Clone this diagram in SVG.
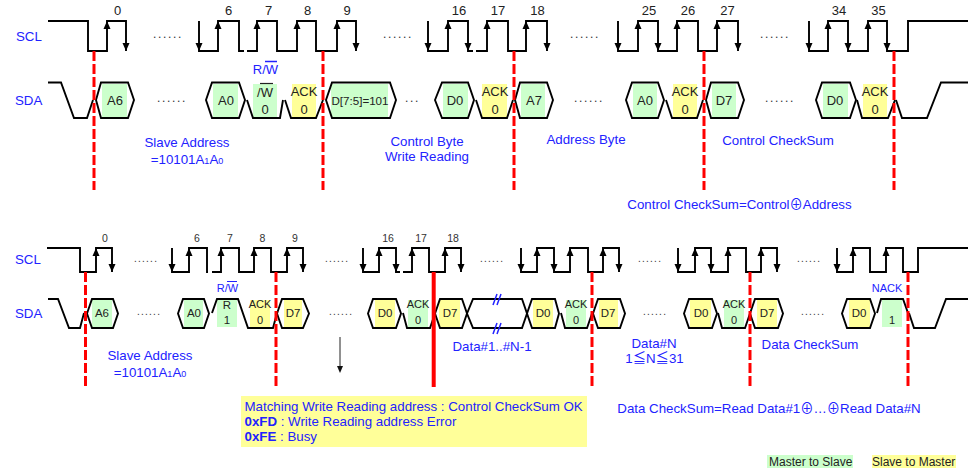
<svg xmlns="http://www.w3.org/2000/svg" width="969" height="469" viewBox="0 0 969 469">
<style>
text{font-family:"Liberation Sans","Noto Sans CJK SC",sans-serif}
.sig{fill:none;stroke:#000;stroke-width:1.9}
.green{fill:#ccffcc}
.yellow{fill:#ffff99}
.b{fill:#2222ff;font-size:13.300px}
.bc{fill:#2222ff;font-size:13.300px;text-anchor:middle}
.bs{fill:#2222ff;font-size:11px;text-anchor:middle}
.n{fill:#222;font-size:13px;text-anchor:middle}
.ns{fill:#333;font-size:10.500px;text-anchor:middle}
.h{fill:#222;font-size:13px;text-anchor:middle}
.hs{fill:#222;font-size:11.500px;text-anchor:middle}
.as{fill:#222;font-size:11px;text-anchor:middle}
.sub{font-size:9px}
.dots{fill:#333;font-size:12px;letter-spacing:1.67px}
.dots2{fill:#333;font-size:10px;letter-spacing:1.25px}
.red{stroke:#ff0000;stroke-width:3;stroke-dasharray:10 3;fill:none}
.blueline{stroke:#2222ff;stroke-width:1.5;fill:none}
.leg{font-size:12px;fill:#222}
</style>
<defs>
<path id="up" d="M0 0L3.5 8H-3.500Z" fill="#000"/>
<path id="dn" d="M0 0L3.5 -8H-3.500Z" fill="#000"/>
</defs>

<g id="backgrounds">
<rect class="green" x="102" y="84" width="25" height="34"/>
<rect class="green" x="213" y="84" width="25" height="34"/>
<rect class="green" x="253" y="84" width="24" height="34"/>
<rect class="yellow" x="292" y="84" width="24" height="34"/>
<rect class="green" x="331" y="84" width="57" height="34"/>
<rect class="green" x="443" y="84" width="25" height="34"/>
<rect class="yellow" x="482" y="84" width="25" height="34"/>
<rect class="green" x="521" y="84" width="24" height="34"/>
<rect class="green" x="633" y="84" width="24" height="34"/>
<rect class="yellow" x="673" y="84" width="24" height="34"/>
<rect class="green" x="712" y="84" width="24" height="34"/>
<rect class="green" x="823" y="84" width="25" height="34"/>
<rect class="yellow" x="863" y="84" width="24" height="34"/>

<rect class="green" x="92" y="300" width="20" height="27"/>
<rect class="green" x="184" y="300" width="19" height="27"/>
<rect class="green" x="217" y="300" width="20" height="27"/>
<rect class="yellow" x="250" y="300" width="20" height="27"/>
<rect class="yellow" x="284" y="300" width="18" height="27"/>
<rect class="yellow" x="375" y="300" width="20" height="27"/>
<rect class="green" x="408" y="300" width="20" height="27"/>
<rect class="yellow" x="439" y="300" width="21" height="27"/>
<rect class="yellow" x="533" y="300" width="20" height="27"/>
<rect class="green" x="566" y="300" width="20" height="27"/>
<rect class="yellow" x="599" y="300" width="19" height="27"/>
<rect class="yellow" x="690" y="300" width="21" height="27"/>
<rect class="green" x="724" y="300" width="20" height="27"/>
<rect class="yellow" x="757" y="300" width="20" height="27"/>
<rect class="yellow" x="849" y="300" width="21" height="27"/>
<rect class="green" x="882" y="300" width="20" height="27"/>
</g>

<g id="scl-top">
<path class="sig" d="M48 21H88V51H107V21H126V51M199 21V51H218V21H239V51H244M247 51H257V21H277V51H297V21H316V51H337V21H356V51M428 21V51H448V21H468V51H473M476 51H487V21H508V51H526V21H547V51M618 21V51H638V21H658V51H677V21H698V51H717V21H738V51M809 21V51H828V21H848V51H868V21H887V51H908V21H968"/>
<use href="#up" x="107" y="21"/><use href="#up" x="218" y="21"/><use href="#up" x="257" y="21"/><use href="#up" x="297" y="21"/><use href="#up" x="337" y="21"/><use href="#up" x="448" y="21"/><use href="#up" x="487" y="21"/><use href="#up" x="526" y="21"/><use href="#up" x="638" y="21"/><use href="#up" x="677" y="21"/><use href="#up" x="717" y="21"/><use href="#up" x="828" y="21"/><use href="#up" x="868" y="21"/>
<use href="#dn" x="126" y="51"/><use href="#dn" x="199" y="51"/><use href="#dn" x="356" y="51"/><use href="#dn" x="428" y="51"/><use href="#dn" x="468" y="51"/><use href="#dn" x="547" y="51"/><use href="#dn" x="618" y="51"/><use href="#dn" x="658" y="51"/><use href="#dn" x="738" y="51"/><use href="#dn" x="809" y="51"/><use href="#dn" x="848" y="51"/><use href="#dn" x="887" y="51"/>
</g>

<g id="sda-top">
<path class="sig" d="M48 82.500H61L74 118H87L93 100"/>
<path class="sig" d="M96 100L101 82.500H128L134 100L128 118H101Z"/>
<path class="sig" d="M206 100L212 82.500H239L245 100L239 118H212Z"/>
<path class="sig" d="M247 100L253 118H280L283 100"/>
<path class="sig" d="M285 100L291 118H316L323 100"/>
<path class="sig" d="M326 100L332 82.500H390L396 100L390 118H332Z"/>
<path class="sig" d="M435 100L442 82.500H468L474 100L468 118H442Z"/>
<path class="sig" d="M476 100L482 118H507L513 100"/>
<path class="sig" d="M515 100L520 82.500H547L553 100L547 118H520Z"/>
<path class="sig" d="M626 100L632 82.500H658L664 100L658 118H632Z"/>
<path class="sig" d="M666 100L672 118H697L703 100"/>
<path class="sig" d="M706 100L711 82.500H738L744 100L738 118H711Z"/>
<path class="sig" d="M816 100L822 82.500H850L856 100L850 118H822Z"/>
<path class="sig" d="M857 100L862 118H888L895 100"/>
<path class="sig" d="M896 100L902 118H927L941 82.500H968"/>
</g>

<g id="scl-bottom">
<path class="sig" d="M47 248H80V272H96V248H112V272M172 248V272H189V248H207V272H208M212 272H221V248H239V272H254V248H271V272H287V248H303V272M363 248V272H379V248H396V272H400M403 272H412V248H429V272H445V248H461V272M521 248V272H537V248H554V272H570V248H588V272H603V248H619V272M678 248V272H695V248H711V272H728V248H746V272H761V248H777V272M837 248V272H853V248H870V272H886V248H903V272H918V248H968"/>
<use href="#up" x="96" y="248"/><use href="#up" x="189" y="248"/><use href="#up" x="221" y="248"/><use href="#up" x="254" y="248"/><use href="#up" x="287" y="248"/><use href="#up" x="379" y="248"/><use href="#up" x="412" y="248"/><use href="#up" x="445" y="248"/><use href="#up" x="537" y="248"/><use href="#up" x="570" y="248"/><use href="#up" x="603" y="248"/><use href="#up" x="695" y="248"/><use href="#up" x="728" y="248"/><use href="#up" x="761" y="248"/><use href="#up" x="853" y="248"/><use href="#up" x="886" y="248"/>
<use href="#dn" x="112" y="272"/><use href="#dn" x="172" y="272"/><use href="#dn" x="303" y="272"/><use href="#dn" x="363" y="272"/><use href="#dn" x="396" y="272"/><use href="#dn" x="461" y="272"/><use href="#dn" x="521" y="272"/><use href="#dn" x="554" y="272"/><use href="#dn" x="619" y="272"/><use href="#dn" x="678" y="272"/><use href="#dn" x="711" y="272"/><use href="#dn" x="777" y="272"/><use href="#dn" x="837" y="272"/>
</g>

<g id="sda-bottom">
<path class="sig" d="M48 299H58L69 328H80L84 313"/>
<path class="sig" d="M87 313.500L92 299H113L118 313.500L113 328H92Z"/>
<path class="sig" d="M178 313.500L183 299H204L209 313.500L204 328H183Z"/>
<path class="sig" d="M212 313L217 299H238L248 328H273L277 313"/>
<path class="sig" d="M277 313.500L282 299H303L309 313.500L303 328H282Z"/>
<path class="sig" d="M368 313.500L373 299H396L401 313.500L396 328H373Z"/>
<path class="sig" d="M403 313L407 328H430L435 313.500"/>
<path class="sig" d="M435 313.500L440 299H462L467 313.500L462 328H440Z"/>
<path class="sig" d="M467 313.500L473 299H522L527 313.500L522 328H473Z"/>
<path class="sig" d="M527 313.500L532 299H555L559 313.500L555 328H532Z"/>
<path class="sig" d="M561 313L565 328H587L592 313.500"/>
<path class="sig" d="M593 313.500L598 299H620L625 313.500L620 328H598Z"/>
<path class="sig" d="M684 313.500L689 299H712L717 313.500L712 328H689Z"/>
<path class="sig" d="M718 313L722 328H745L750 313.500"/>
<path class="sig" d="M750 313.500L755 299H778L783 313.500L778 328H755Z"/>
<path class="sig" d="M842 313.500L847 299H870L875 313.500L870 328H847Z"/>
<path class="sig" d="M877 313L881 299H903L908 313"/>
<path class="sig" d="M909 313L914 328H935L946 299H968"/>
<path class="blueline" d="M493 305L497 294M497 305L501 294M493 334L497 323M497 334L501 323"/>
</g>

<g id="markers">
<path class="red" d="M94 51V190M323 51V190M514 51V190M704 51V190M894 51V190M85.500 272V387M276 272V387M592 272V387M750 272V387M908 272V387"/>
<path d="M433.700 272V387" stroke="#ff0000" stroke-width="4" fill="none"/>
<path d="M340 337V368" stroke="#222" stroke-width="1"/>
<path d="M340 373L337 366H343Z" fill="#111"/>
</g>

<g id="labels-top">
<text class="b" x="16" y="41">SCL</text>
<text class="b" x="15" y="105">SDA</text>
<text class="n" x="117.500" y="15">0</text><text class="n" x="228.500" y="15">6</text><text class="n" x="268.500" y="15">7</text><text class="n" x="307.500" y="15">8</text><text class="n" x="347" y="15">9</text><text class="n" x="459" y="15">16</text><text class="n" x="498" y="15">17</text><text class="n" x="537.500" y="15">18</text><text class="n" x="649" y="15">25</text><text class="n" x="688" y="15">26</text><text class="n" x="727.500" y="15">27</text><text class="n" x="839" y="15">34</text><text class="n" x="878.500" y="15">35</text>
<text class="dots" x="153" y="38">......</text><text class="dots" x="383" y="38">......</text><text class="dots" x="570" y="38">......</text><text class="dots" x="760" y="38">......</text>
<text class="dots" x="157" y="102">......</text><text class="dots" x="405" y="102">...</text><text class="dots" x="574" y="102">......</text><text class="dots" x="765" y="102">......</text>
<text class="h" x="115" y="105">A6</text><text class="h" x="226" y="105">A0</text>
<text class="h" x="265" y="97">/W</text><text class="h" x="265" y="114">0</text>
<path d="M260 83.500H273" stroke="#222" stroke-width="1.2"/>
<text class="h" x="304" y="96">ACK</text><text class="h" x="304" y="114">0</text>
<text class="h" x="360" y="104.500" style="font-size:11.600px">D[7:5]=101</text>
<text class="h" x="455" y="105">D0</text>
<text class="h" x="495" y="96">ACK</text><text class="h" x="495" y="114">0</text>
<text class="h" x="534" y="105">A7</text><text class="h" x="645" y="105">A0</text>
<text class="h" x="685" y="96">ACK</text><text class="h" x="685" y="114">0</text>
<text class="h" x="724" y="105">D7</text><text class="h" x="835" y="105">D0</text>
<text class="h" x="875" y="96">ACK</text><text class="h" x="875" y="114">0</text>
<text class="bc" x="265.500" y="74" style="font-size:13px">R/W</text>
<path class="blueline" d="M265 61.500H277"/>
<text class="bc" x="187" y="147">Slave Address</text>
<text class="bc" x="187" y="164">=10101A<tspan class="sub">1</tspan>A<tspan class="sub">0</tspan></text>
<text class="bc" x="427" y="146">Control Byte</text>
<text class="bc" x="427" y="161">Write Reading</text>
<text class="bc" x="586" y="144">Address Byte</text>
<text class="bc" x="778" y="145">Control CheckSum</text>
<text class="bc" x="739.500" y="209">Control CheckSum=Control⊕Address</text>
</g>

<g id="labels-bottom">
<text class="b" x="15" y="264">SCL</text>
<text class="b" x="15" y="318">SDA</text>
<text class="ns" x="105" y="242">0</text><text class="ns" x="197" y="242">6</text><text class="ns" x="230" y="242">7</text><text class="ns" x="262.500" y="242">8</text><text class="ns" x="295" y="242">9</text><text class="ns" x="388" y="242">16</text><text class="ns" x="421" y="242">17</text><text class="ns" x="453" y="242">18</text>
<text class="dots2" x="134" y="261.500">......</text><text class="dots2" x="325" y="261.500">......</text><text class="dots2" x="480" y="261.500">......</text><text class="dots2" x="638" y="261.500">......</text><text class="dots2" x="797" y="261.500">......</text>
<text class="dots2" x="137" y="315">......</text><text class="dots2" x="329" y="315">......</text><text class="dots2" x="643" y="315">......</text><text class="dots2" x="801" y="315">......</text>
<text class="hs" x="102" y="317">A6</text><text class="hs" x="194" y="317">A0</text>
<text class="hs" x="227" y="309">R</text><text class="hs" x="227" y="324">1</text>
<text class="as" x="260" y="308">ACK</text><text class="as" x="260" y="324">0</text>
<text class="hs" x="293" y="317">D7</text><text class="hs" x="385" y="317">D0</text>
<text class="as" x="418" y="308">ACK</text><text class="as" x="418" y="324">0</text>
<text class="hs" x="450" y="317">D7</text><text class="hs" x="543" y="317">D0</text>
<text class="as" x="576" y="308">ACK</text><text class="as" x="576" y="324">0</text>
<text class="hs" x="608" y="317">D7</text><text class="hs" x="701" y="317">D0</text>
<text class="as" x="734" y="308">ACK</text><text class="as" x="734" y="324">0</text>
<text class="hs" x="767" y="317">D7</text><text class="hs" x="859" y="317">D0</text>
<text class="as" x="892" y="324">1</text>
<text class="bs" x="227.500" y="292">R/W</text>
<path class="blueline" d="M227 281.500H237" style="stroke-width:1"/>
<text class="bs" x="887" y="292">NACK</text>
<text class="bc" x="150" y="360">Slave Address</text>
<text class="bc" x="150" y="377">=10101A<tspan class="sub">1</tspan>A<tspan class="sub">0</tspan></text>
<text class="bc" x="492" y="351">Data#1..#N-1</text>
<text class="bc" x="654" y="348">Data#N</text>
<text class="bc" x="654.500" y="363">1≦N≦31</text>
<text class="bc" x="810" y="349">Data CheckSum</text>
<text class="bc" x="769" y="413">Data CheckSum=Read Data#1⊕…⊕Read Data#N</text>
</g>

<g id="note">
<rect class="yellow" x="241" y="396" width="346" height="51"/>
<text class="b" x="244.500" y="411">Matching Write Reading address : Control CheckSum OK</text>
<text class="b" x="244.500" y="426"><tspan font-weight="bold">0xFD</tspan> : Write Reading address Error</text>
<text class="b" x="244.500" y="441"><tspan font-weight="bold">0xFE</tspan> : Busy</text>
</g>

<g id="legend">
<rect class="green" x="767" y="455" width="86" height="13"/>
<text class="leg" x="769" y="466">Master to Slave</text>
<rect class="yellow" x="872" y="455" width="84" height="13"/>
<text class="leg" x="872" y="466">Slave to Master</text>
</g>
</svg>
